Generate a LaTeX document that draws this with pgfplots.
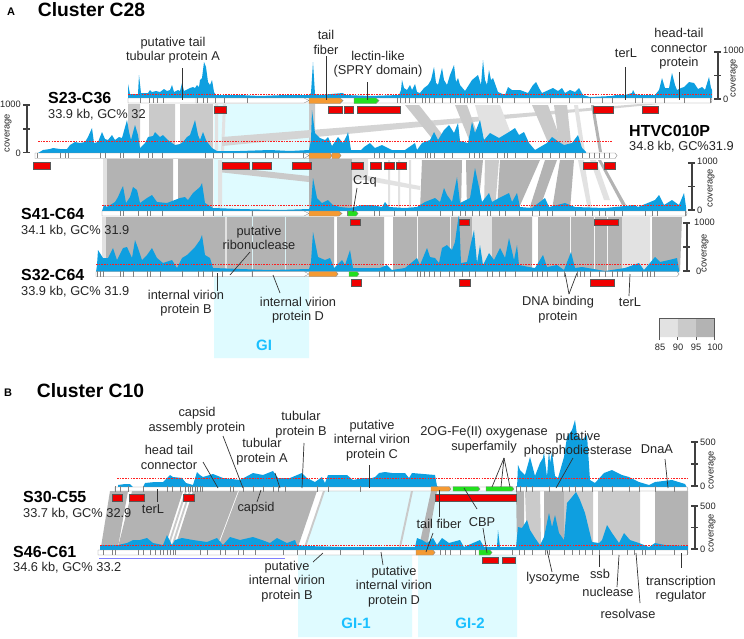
\documentclass[border=0pt]{standalone}
\usepackage{fontspec}
\setmainfont{Liberation Sans}
\usepackage{pgfplots}
\pgfplotsset{compat=1.18}
\definecolor{covb}{HTML}{0E9FE0}
\definecolor{cya}{HTML}{DFFBFF}
\definecolor{ga}{HTML}{B3B3B3}
\definecolor{gb}{HTML}{CACACA}
\definecolor{gc}{HTML}{E2E2E2}
\definecolor{redb}{HTML}{F00000}
\definecolor{orab}{HTML}{F59A32}
\definecolor{greb}{HTML}{22E01E}
\definecolor{gicol}{HTML}{1AC0FF}
\definecolor{lead}{HTML}{333333}
\definecolor{dotr}{HTML}{FF2020}
% filled box: x0 x1 y0 y1 colour
\newcommand{\Bx}[5]{\addplot[fill=#5,draw=none] coordinates {(#1,#3)(#2,#3)(#2,#4)(#1,#4)(#1,#3)};}
% red box with dark frame
\newcommand{\Rd}[4]{\addplot[fill=redb,draw=black!65,line width=0.8pt] coordinates {(#1,#3)(#2,#3)(#2,#4)(#1,#4)(#1,#3)};}
% link polygon: top-left top-right bottom-right bottom-left at y top/bottom
\newcommand{\Lk}[7]{\addplot[fill=#7,draw=none] coordinates {(#1,#5)(#2,#5)(#3,#6)(#4,#6)(#1,#5)};}
% gene arrow: x0 xneck x1 y0 ymid y1 colour
\newcommand{\Gn}[7]{\addplot[fill=#7,draw=black!45,line width=0.4pt] coordinates {(#1,#4)(#2,#4)(#3,#5)(#2,#6)(#1,#6)(#1,#4)};}
% leader line
\newcommand{\Ld}[4]{\addplot[lead,line width=0.7pt] coordinates {(#1,#2)(#3,#4)};}
% thick scale line
\newcommand{\Sc}[4]{\addplot[black!75,line width=1.1pt] coordinates {(#1,#2)(#3,#4)};}
\newcommand{\Red}[3]{\addplot[color=dotr,line width=1pt,dash pattern=on 1.6pt off 1.1pt] coordinates {(#1,#3)(#2,#3)};}
\newcommand{\lab}{\fontsize{12.8}{14.5}\selectfont}
\newcommand{\bld}{\fontsize{16}{18}\selectfont\bfseries}
\newcommand{\sml}{\fontsize{9.3}{11}\selectfont}
\tikzset{T/.style={inner sep=0pt,align=center,text=black!85,font=\lab},
  S/.style={inner sep=0pt,align=center,text=black!85,font=\sml},
  H/.style={inner sep=0pt,align=center,text=black,font=\bld},
  G/.style={inner sep=0pt,align=center,text=gicol,font=\fontsize{15}{17}\selectfont\bfseries}}
\begin{document}
\begin{tikzpicture}
\begin{axis}[hide axis,scale only axis,width=744pt,height=638pt,
  xmin=0,xmax=744,ymin=0,ymax=638,y dir=reverse,clip=false]
\addplot[fill=white,draw=none] coordinates {(0,0)(744,0)(744,638)(0,638)(0,0)};
%% ---- genomic-island backgrounds
\Bx{214}{309}{104}{358}{cya}
\addplot[fill=cya,draw=none] coordinates {(325,490)(431,490)(418,547)(412,547)(412,637)(298,637)(298,547)(305,547)(325,490)};
\addplot[fill=cya,draw=none] coordinates {(431,490)(517,490)(517,637)(418,637)(418,547)(431,490)};
%% ---- links A, track 1 -> 2
\Lk{128}{140}{140}{128}{104}{152}{gb}
\Lk{149}{175}{175}{149}{104}{152}{gb}
\Lk{180}{213}{213}{180}{104}{152}{gb}
\Lk{215}{218}{218}{215}{104}{152}{gc}
\Lk{223}{226}{224}{221}{104}{152}{gc}
\Lk{309}{315}{315}{309}{104}{152}{gb}
\addplot[fill=gb!60!gc,draw=none] coordinates {(222,137)(640,104)(660,104)(222,146)(222,137)};
\Lk{405}{419}{456}{443}{105}{152}{gb}
\Lk{455}{467}{484}{474}{105}{152}{gb}
\Lk{475}{500}{518}{488}{105}{152}{gc}
\Lk{532}{548}{565}{552}{105}{152}{gb}
\Lk{554}{567}{572}{560}{105}{152}{gb}
\Lk{574}{578}{585}{581}{105}{152}{gc}
\Lk{591}{594}{602}{599}{105}{152}{ga}
%% ---- links A, track 2 -> 3
\Lk{103}{107}{107}{103}{159}{210}{gc}
\Lk{107}{173}{173}{107}{159}{210}{ga}
\Lk{178}{213}{213}{178}{159}{210}{ga}
\addplot[fill=gb,draw=none] coordinates {(218,166)(309,176)(309,182)(218,172)(218,166)};
\addplot[fill=gc,draw=none] coordinates {(218,160)(222,160)(222,210)(218,210)(218,160)};
\Lk{309}{352}{352}{309}{159}{210}{ga}
\Lk{352}{368}{368}{352}{159}{180}{gc}
\addplot[fill=gc,draw=none] coordinates {(368,176)(420,186)(420,190)(368,181)(368,176)};
\Lk{388}{390}{390}{388}{160}{210}{gc}
\Lk{398}{400}{400}{398}{160}{210}{gc}
\Lk{409}{411}{411}{409}{160}{210}{gc}
\Lk{422}{462}{461}{420}{160}{210}{ga}
\Lk{466}{483}{478}{467}{160}{210}{ga}
\Lk{485}{499}{495}{484}{160}{210}{gb}
\Lk{500}{540}{518}{497}{160}{210}{ga}
\Lk{545}{557}{539}{529}{160}{210}{ga}
\Lk{560}{574}{570}{552}{160}{210}{ga}
\Lk{578}{584}{592}{588}{160}{210}{gc}
\Lk{590}{596}{610}{604}{160}{200}{gc}
\Lk{598}{601}{626}{622}{160}{205}{ga}
%% ---- links A, track 3 -> 4
\Lk{102}{106}{106}{102}{217}{271}{gc}
\Lk{106}{225}{225}{106}{217}{271}{ga}
\Lk{225}{227}{227}{225}{217}{271}{gc}
\Lk{227}{252}{252}{227}{217}{271}{ga}
\Lk{253}{285}{285}{253}{217}{271}{ga}
\Lk{286}{334}{334}{286}{217}{271}{ga}
\Lk{337}{384}{384}{337}{217}{271}{ga}
\Lk{393}{417}{417}{393}{217}{271}{ga}
\Lk{418}{450}{450}{418}{217}{271}{ga}
\Lk{451}{472}{472}{451}{217}{271}{ga}
\Lk{472}{492}{492}{472}{217}{271}{gc}
\Lk{492}{532}{532}{492}{217}{271}{ga}
\Lk{538}{570}{570}{538}{217}{271}{ga}
\Lk{571}{594}{594}{571}{217}{271}{ga}
\Lk{595}{607}{607}{595}{217}{271}{ga}
\Lk{608}{622}{622}{608}{217}{271}{ga}
\Lk{622}{650}{650}{622}{217}{271}{gc}
\Lk{652}{682}{680}{652}{217}{271}{ga}
%% ---- links B
\Lk{110}{128}{118}{101}{491}{547}{ga}
\Lk{132}{183}{165}{118}{491}{547}{ga}
\Lk{185}{187}{169}{167}{491}{547}{gb}
\Lk{189}{191}{173}{171}{491}{547}{gb}
\Lk{193}{238}{217}{175}{491}{547}{ga}
\Lk{239}{317}{298}{218}{491}{547}{ga}
\Lk{323}{325}{306}{304}{491}{547}{gb}
\Lk{411}{413}{401}{399}{491}{547}{gb}
\Lk{431}{437}{427}{419}{491}{547}{ga}
\Lk{516}{524}{524}{517}{491}{546}{ga}
\Lk{525}{540}{541}{527}{491}{546}{gb}
\Lk{544}{564}{564}{544}{491}{546}{ga}
\Lk{564}{593}{593}{564}{491}{546}{gb}
\Lk{598}{640}{640}{598}{491}{546}{gb}
\Lk{655}{688}{688}{655}{491}{546}{ga}
%% ---- coverage A1
\addplot[fill=covb,draw=none] coordinates {(128,98)(128,84)(130,94)(134,94)(138,94)(139,75)(141,93)(148,93)(150,90)(152,92)(156,91)(160,92)(164,89)(167,91)(170,90)(172,85)(174,92)(178,90)(180,91)(182,83)(184,91)(188,89)(190,88)(193,87)(195,88)(197,85)(199,87)(200,80)(202,78)(204,62)(206,67)(208,82)(210,85)(212,80)(214,92)(216,95)(240,95)(260,96)(285,95)(309,95)(311,93)(313,62)(315,94)(320,95)(343,93)(345,95)(370,96)(399,95)(401,90)(402,80)(404,88)(407,90)(410,85)(412,90)(415,84)(417,92)(420,93)(424,88)(428,85)(431,80)(434,67)(436,83)(438,85)(442,68)(444,80)(447,85)(450,75)(454,65)(456,82)(458,78)(460,85)(465,91)(472,80)(478,75)(481,85)(483,60)(485,80)(487,85)(489,70)(491,80)(493,78)(498,92)(505,95)(508,87)(512,90)(520,90)(528,93)(533,85)(536,82)(539,88)(542,93)(553,88)(558,91)(562,88)(565,93)(570,90)(575,92)(579,88)(583,95)(590,97)(612,96)(616,95)(625,95)(632,93)(633,90)(635,94)(639,95)(655,95)(659,90)(662,78)(665,88)(669,88)(672,73)(675,85)(677,90)(681,88)(684,87)(689,82)(694,83)(698,89)(702,87)(705,90)(709,77)(711,88)(712,90)(712,98)(128,98)};
%% ---- coverage A2
\addplot[fill=covb,draw=none] coordinates {(38,153)(43,150)(50,149)(53,148)(60,149)(67,149)(70,145)(75,142)(80,143)(85,142)(88,137)(92,128)(94,143)(98,142)(102,132)(105,139)(108,140)(112,135)(115,140)(119,137)(122,138)(127,120)(129,132)(131,140)(135,125)(138,135)(140,148)(145,143)(148,137)(153,136)(155,132)(160,137)(163,135)(168,140)(172,143)(175,145)(180,144)(183,142)(187,137)(190,135)(195,120)(198,135)(200,140)(203,132)(206,140)(208,143)(212,148)(217,151)(240,151)(270,150)(290,151)(309,150)(311,140)(312,110)(315,133)(320,138)(325,140)(328,137)(332,146)(338,137)(343,143)(347,135)(348,132)(351,150)(361,150)(364,147)(370,143)(375,148)(382,145)(392,150)(405,150)(415,143)(417,150)(422,143)(430,140)(434,132)(438,140)(444,130)(449,125)(454,133)(458,123)(460,141)(468,143)(472,122)(475,133)(480,120)(484,140)(490,133)(499,138)(504,135)(509,132)(515,128)(519,135)(524,132)(529,143)(535,150)(547,143)(552,137)(559,142)(564,145)(572,143)(578,135)(582,148)(586,152)(586,153)(38,153)};
%% ---- coverage A3
\addplot[fill=covb,draw=none] coordinates {(102,211)(104,205)(107,207)(115,202)(118,197)(121,190)(123,186)(126,203)(130,197)(133,187)(137,190)(140,203)(147,198)(152,195)(157,202)(167,203)(180,198)(185,197)(188,200)(193,193)(200,187)(202,183)(205,203)(213,208)(240,209)(280,210)(309,209)(311,205)(313,178)(317,198)(322,203)(328,200)(333,205)(340,207)(350,208)(362,205)(372,205)(382,207)(385,202)(389,207)(405,208)(417,207)(425,202)(435,198)(440,202)(444,188)(447,195)(452,202)(457,177)(460,203)(470,198)(475,168)(479,187)(482,202)(489,193)(492,202)(499,198)(509,193)(512,202)(517,193)(520,207)(532,208)(545,198)(549,207)(565,203)(575,207)(605,208)(635,205)(638,207)(655,200)(659,195)(664,205)(672,200)(679,205)(684,193)(686,207)(686,211)(102,211)};
%% ---- coverage A4
\addplot[fill=covb,draw=none] coordinates {(96,272)(97,265)(98,250)(103,258)(108,258)(113,248)(117,260)(123,248)(127,247)(132,258)(135,240)(138,248)(142,260)(147,255)(152,248)(157,258)(163,263)(172,260)(177,268)(182,258)(187,255)(195,247)(200,240)(202,235)(205,255)(210,258)(213,268)(240,269)(270,270)(309,269)(311,262)(313,232)(318,257)(325,260)(330,258)(334,268)(342,260)(345,265)(350,250)(353,268)(367,268)(380,268)(387,265)(392,270)(405,268)(417,258)(420,265)(427,248)(430,257)(435,258)(439,263)(442,248)(447,245)(452,250)(455,242)(459,213)(461,263)(467,262)(471,243)(474,230)(477,263)(480,245)(483,265)(489,253)(494,260)(500,248)(505,258)(509,238)(514,260)(517,245)(519,265)(529,267)(535,268)(543,255)(547,267)(557,265)(564,270)(571,252)(575,268)(582,267)(605,271)(625,268)(639,263)(644,270)(655,257)(660,262)(669,260)(677,258)(679,270)(679,272)(96,272)};
%% ---- coverage B1
\addplot[fill=covb,draw=none] coordinates {(118,488)(118,485)(125,484)(130,484)(133,487)(143,487)(145,483)(155,482)(163,482)(170,475)(173,477)(182,478)(186,483)(193,485)(197,472)(200,475)(203,477)(213,474)(223,478)(240,480)(253,473)(263,475)(273,471)(278,478)(290,478)(302,473)(307,478)(315,482)(322,477)(325,483)(328,475)(347,475)(353,480)(363,478)(372,478)(375,477)(379,473)(385,472)(392,473)(405,473)(409,478)(412,473)(435,475)(437,486)(440,488)(517,488)(518,465)(520,470)(525,475)(530,457)(535,476)(540,463)(543,458)(544,452)(547,477)(549,450)(550,463)(552,452)(555,476)(558,478)(564,457)(567,437)(572,430)(575,420)(577,435)(582,440)(587,435)(590,480)(595,483)(604,473)(612,470)(622,475)(629,477)(639,482)(649,485)(655,482)(672,480)(685,484)(687,488)(118,488)};
%% ---- coverage B2
\addplot[fill=covb,draw=none] coordinates {(100,550)(100,545)(118,545)(127,543)(133,540)(140,540)(147,538)(153,543)(163,545)(167,535)(172,545)(175,540)(182,538)(193,540)(207,542)(217,538)(223,545)(230,537)(240,540)(253,537)(262,540)(270,543)(277,538)(287,543)(295,540)(297,545)(307,546)(340,547)(367,547)(400,547)(415,547)(417,538)(422,540)(427,543)(433,538)(437,545)(442,538)(449,543)(460,540)(464,547)(480,540)(484,547)(497,547)(498,530)(500,547)(516,547)(518,527)(522,528)(527,520)(530,530)(535,538)(540,545)(544,537)(549,513)(552,527)(555,515)(559,533)(564,540)(567,503)(572,497)(576,492)(580,500)(585,513)(592,542)(599,543)(602,540)(607,525)(612,533)(619,543)(624,533)(630,540)(639,543)(649,547)(655,543)(665,545)(688,546)(688,550)(100,550)};
%% ---- red dotted
\Red{128}{712}{94.5}
\Red{38}{612}{141.3}
\Red{102}{680}{205.3}
\Red{96}{679}{264.3}
\Red{117}{688}{478.3}
\Red{100}{688}{545.3}
%% ---- genome bars
\Gn{128}{711}{712}{98}{100.5}{103}{white}
\Gn{35}{615}{617}{153}{155.5}{158.5}{white}
\Gn{102}{686}{687}{211}{213.5}{216}{white}
\Gn{96}{677}{679}{271.5}{274}{276.5}{white}
\Gn{115}{687}{688}{487}{489}{491}{white}
\Gn{98}{687}{688}{550}{552.5}{555}{white}
\Gn{196}{304}{309}{98}{100.5}{103}{white}
\Gn{247}{304}{309}{153}{155.5}{158.5}{white}
\Gn{252}{304}{309}{211}{213.5}{216}{white}
\Gn{252}{304}{309}{271.5}{274}{276.5}{white}
%% ---- gene boundaries
\pgfplotsset{gb/.style={only marks,mark=|,mark size=2.8pt,mark options={black!50,line width=0.45pt}}}
\addplot[gb] coordinates {(140,100.5)(149,100.5)(153,100.5)(157,100.5)(163,100.5)(197,100.5)(203,100.5)(207,100.5)(215,100.5)(224,100.5)(247,100.5)(397,100.5)(400,100.5)(405,100.5)(409,100.5)(415,100.5)(422,100.5)(425,100.5)(429,100.5)(434,100.5)(442,100.5)(450,100.5)(455,100.5)(460,100.5)(464,100.5)(467,100.5)(470,100.5)(474,100.5)(487,100.5)(492,100.5)(497,100.5)(502,100.5)(514,100.5)(529,100.5)(550,100.5)(569,100.5)(582,100.5)(590,100.5)(602,100.5)(612,100.5)(635,100.5)(642,100.5)(655,100.5)(664,100.5)(684,100.5)(710,100.5)};
\addplot[gb] coordinates {(37,155.5)(60,155.5)(65,155.5)(68,155.5)(100,155.5)(105,155.5)(120,155.5)(123,155.5)(139,155.5)(148,155.5)(152,155.5)(162,155.5)(205,155.5)(213,155.5)(222,155.5)(233,155.5)(247,155.5)(265,155.5)(273,155.5)(278,155.5)(303,155.5)(374,155.5)(379,155.5)(384,155.5)(394,155.5)(405,155.5)(415,155.5)(425,155.5)(427,155.5)(430,155.5)(434,155.5)(444,155.5)(452,155.5)(469,155.5)(474,155.5)(479,155.5)(482,155.5)(497,155.5)(504,155.5)(507,155.5)(515,155.5)(527,155.5)(542,155.5)(550,155.5)(559,155.5)(565,155.5)(575,155.5)(582,155.5)(589,155.5)(594,155.5)(599,155.5)(604,155.5)(609,155.5)};
\addplot[gb] coordinates {(120,213.5)(123,213.5)(138,213.5)(147,213.5)(150,213.5)(162,213.5)(203,213.5)(213,213.5)(222,213.5)(252,213.5)(347,213.5)(374,213.5)(379,213.5)(394,213.5)(405,213.5)(417,213.5)(440,213.5)(452,213.5)(460,213.5)(465,213.5)(472,213.5)(479,213.5)(487,213.5)(490,213.5)(499,213.5)(505,213.5)(519,213.5)(532,213.5)(539,213.5)(547,213.5)(552,213.5)(575,213.5)(585,213.5)(592,213.5)(599,213.5)(605,213.5)(614,213.5)(622,213.5)(645,213.5)(652,213.5)(657,213.5)(685,213.5)};
\addplot[gb] coordinates {(97,274)(100,274)(103,274)(120,274)(123,274)(133,274)(147,274)(150,274)(160,274)(182,274)(198,274)(203,274)(212,274)(222,274)(252,274)(379,274)(384,274)(394,274)(405,274)(417,274)(420,274)(424,274)(429,274)(434,274)(440,274)(449,274)(454,274)(462,274)(469,274)(475,274)(487,274)(492,274)(499,274)(505,274)(515,274)(532,274)(537,274)(542,274)(547,274)(557,274)(564,274)(577,274)(580,274)(584,274)(590,274)(599,274)(605,274)(612,274)(617,274)(622,274)(642,274)(647,274)(650,274)(654,274)};
\addplot[gb] coordinates {(115,489)(120,489)(128,489)(143,489)(167,489)(172,489)(180,489)(185,489)(188,489)(190,489)(192,489)(195,489)(197,489)(200,489)(202,489)(230,489)(233,489)(243,489)(253,489)(263,489)(273,489)(278,489)(285,489)(317,489)(328,489)(360,489)(516,489)(520,489)(526,489)(532,489)(549,489)(562,489)(569,489)(575,489)(582,489)(592,489)(602,489)(612,489)(629,489)(639,489)(655,489)(674,489)};
\addplot[gb] coordinates {(103,552.5)(112,552.5)(115,552.5)(138,552.5)(143,552.5)(150,552.5)(155,552.5)(160,552.5)(163,552.5)(167,552.5)(170,552.5)(173,552.5)(175,552.5)(200,552.5)(207,552.5)(220,552.5)(225,552.5)(238,552.5)(243,552.5)(255,552.5)(283,552.5)(297,552.5)(305,552.5)(340,552.5)(363,552.5)(440,552.5)(445,552.5)(450,552.5)(460,552.5)(475,552.5)(512,552.5)(519,552.5)(524,552.5)(532,552.5)(545,552.5)(549,552.5)(564,552.5)(572,552.5)(579,552.5)(585,552.5)(592,552.5)(599,552.5)(612,552.5)(627,552.5)(634,552.5)(642,552.5)(645,552.5)(655,552.5)(674,552.5)(687,552.5)};
%% ---- coloured genes
\Gn{309}{340}{343}{98}{100.5}{103.5}{orab}
\Gn{309}{330}{332}{153}{155.5}{158.5}{orab}
\Gn{332}{339}{341}{153}{155.5}{158.5}{orab}
\Gn{309}{339}{342}{211}{213.5}{216}{orab}
\Gn{309}{336}{338}{271.5}{274}{276.5}{orab}
\Gn{431}{449}{451}{486.5}{489}{491}{orab}
\Gn{416}{433}{435}{550}{552.5}{555}{orab}
\Gn{354}{376}{379}{98}{100.5}{103.5}{greb}
\Gn{348}{356}{358}{211}{213.5}{216}{greb}
\Gn{349}{357}{359}{271.5}{274}{276.5}{greb}
\Gn{453}{478}{480}{486.5}{489}{491}{greb}
\Gn{486}{512}{514}{486.5}{489}{491}{greb}
\Gn{479}{490}{492}{550}{552.5}{555}{greb}
%% ---- red boxes
\Rd{214}{226}{106.5}{113.5}
\Rd{328}{342}{106.5}{113.5}
\Rd{344}{353}{106.5}{113.5}
\Rd{357}{400}{106.5}{113.5}
\Rd{593}{613}{106.5}{113.5}
\Rd{642}{658}{106.5}{113.5}
\Rd{33}{50}{162}{169}
\Rd{222}{249}{162}{169}
\Rd{252}{271}{162}{169}
\Rd{292}{311}{162}{169}
\Rd{351}{363}{162}{169}
\Rd{370}{381}{162}{169}
\Rd{384}{394}{162}{169}
\Rd{396}{406}{162}{169}
\Rd{583}{597}{162}{169}
\Rd{604}{615}{162}{169}
\Rd{350}{360}{219}{225}
\Rd{459}{469}{219}{225}
\Rd{594}{618}{219}{225}
\Rd{351}{361}{279}{286}
\Rd{459}{470}{279}{286}
\Rd{590}{614}{279}{286}
\Rd{112}{122}{494}{501}
\Rd{129}{144}{494}{501}
\Rd{183}{194}{494}{501}
\Rd{435}{516}{494}{501}
\Rd{482}{498}{557}{563}
\Rd{502}{515}{557}{563}
\addplot[color=blue!50,line width=1.1pt] coordinates {(99,558.3)(285,558.3)};
%% ---- leader lines
\Ld{182}{68}{182}{100}\Ld{326}{56}{326}{100}\Ld{367}{82}{367}{100}\Ld{625}{67}{625}{100}\Ld{679}{72}{679}{100}
\Ld{357}{188}{353}{212}\Ld{250}{252}{230}{275}\Ld{217}{273}{217}{291}\Ld{273}{275}{280}{293}
\Ld{569}{294}{565}{273}\Ld{569}{294}{577}{273}\Ld{630}{274}{629}{296}
\Ld{203}{462}{218}{488}\Ld{223}{436}{243}{488}\Ld{275}{473}{280}{488}\Ld{304}{443}{302}{488}\Ld{369}{465}{369}{488}
\Ld{157}{489}{157}{502}\Ld{261}{490}{257}{502}\Ld{323}{553}{313}{562}\Ld{381}{552}{383}{565}
\Ld{504}{458}{492}{487}\Ld{504}{458}{501}{487}\Ld{504}{458}{510}{487}\Ld{573}{458}{556}{488}\Ld{665}{459}{668}{488}
\Ld{439}{490}{439}{517}\Ld{433}{533}{426}{552}\Ld{464}{488}{477}{509}\Ld{483}{528}{487}{553}
\Ld{547}{550}{552}{572}\Ld{599}{553}{599}{567}\Ld{619}{555}{617}{587}\Ld{636}{553}{640}{603}\Ld{681}{553}{681}{568}
%% ---- coverage scales
\Sc{718}{52}{718}{99}\Sc{714}{52}{721}{52}\Sc{714}{75.5}{721}{75.5}\Sc{714}{99}{721}{99}
\Sc{27}{105}{27}{152.7}\Sc{23}{105}{30}{105}\Sc{23}{129}{30}{129}\Sc{23}{152.7}{30}{152.7}
\Sc{692}{163}{692}{210}\Sc{688}{163}{695}{163}\Sc{688}{186.5}{695}{186.5}\Sc{688}{210}{695}{210}
\Sc{687}{223}{687}{271}\Sc{683}{223}{690}{223}\Sc{683}{247}{690}{247}\Sc{683}{271}{690}{271}
\Sc{695}{442}{695}{486}\Sc{691}{442}{698}{442}\Sc{691}{464}{698}{464}\Sc{691}{486}{698}{486}
\Sc{695}{506}{695}{549}\Sc{691}{506}{698}{506}\Sc{691}{527.5}{698}{527.5}\Sc{691}{549}{698}{549}
%% ---- identity legend
\Bx{659}{677.5}{318}{337}{gc}
\Bx{677.5}{696}{318}{337}{gb}
\Bx{696}{714}{318}{337}{ga}
\addplot[black!65,line width=0.8pt] coordinates {(659,340)(659,318)(714,318)(714,340)};
\addplot[black!65,line width=0.8pt] coordinates {(677.5,337)(677.5,340)};
\addplot[black!65,line width=0.8pt] coordinates {(696,337)(696,340)};
%% ---- text
\node[H,font=\fontsize{11}{13}\selectfont\bfseries] at (axis cs:11,12) {A};
\node[H,font=\fontsize{19.3}{22}\selectfont\bfseries] at (axis cs:91.5,9.5) {Cluster C28};
\node[H,font=\fontsize{11}{13}\selectfont\bfseries] at (axis cs:8,393) {B};
\node[H,font=\fontsize{19.3}{22}\selectfont\bfseries] at (axis cs:90.5,391) {Cluster C10};
\node[T] at (axis cs:173,50) {putative tail\\tubular protein A};
\node[T] at (axis cs:326,42.5) {tail\\fiber};
\node[T] at (axis cs:378,64) {lectin-like\\(SPRY domain)};
\node[T] at (axis cs:626,53) {terL};
\node[T] at (axis cs:679,49) {head-tail\\connector\\protein};
\node[H,anchor=west] at (axis cs:48,98) {S23-C36};
\node[T,anchor=west] at (axis cs:48,115) {33.9 kb, GC\% 32};
\node[H,anchor=west] at (axis cs:629,131) {HTVC010P};
\node[T,anchor=west] at (axis cs:629,147) {34.8 kb, GC\%31.9};
\node[T,anchor=west] at (axis cs:353,181) {C1q};
\node[H,anchor=west] at (axis cs:21,214) {S41-C64};
\node[T,anchor=west] at (axis cs:21,231) {34.1 kb, GC\% 31.9};
\node[H,anchor=west] at (axis cs:21,275) {S32-C64};
\node[T,anchor=west] at (axis cs:21,292) {33.9 kb, GC\% 31.9};
\node[T] at (axis cs:259,238) {putative\\ribonuclease};
\node[T] at (axis cs:186,303) {internal virion\\protein B};
\node[T] at (axis cs:298,310) {internal virion\\protein D};
\node[G] at (axis cs:264,345) {GI};
\node[T] at (axis cs:558,309.5) {DNA binding\\protein};
\node[T] at (axis cs:630,302) {terL};
\node[S] at (axis cs:660,347.5) {85};
\node[S] at (axis cs:678,347.5) {90};
\node[S] at (axis cs:696,347.5) {95};
\node[S] at (axis cs:715,347.5) {100};
\node[S,anchor=west] at (axis cs:723,50) {1000};
\node[S,anchor=west] at (axis cs:723,99) {0};
\node[S,rotate=90] at (axis cs:734,78) {coverage};
\node[S,anchor=east] at (axis cs:21,104) {1000};
\node[S,anchor=east] at (axis cs:21,153) {0};
\node[S,rotate=90] at (axis cs:8,133) {coverage};
\node[S,anchor=west] at (axis cs:697,161) {1000};
\node[S,anchor=west] at (axis cs:697,210) {0};
\node[S,rotate=90] at (axis cs:711,188) {coverage};
\node[S,anchor=west] at (axis cs:694,222) {1000};
\node[S,anchor=west] at (axis cs:696,271) {0};
\node[S,rotate=90] at (axis cs:705,253) {coverage};
\node[S,anchor=west] at (axis cs:700,442) {500};
\node[S,anchor=west] at (axis cs:700,486) {0};
\node[S,rotate=90] at (axis cs:712,470) {coverage};
\node[S,anchor=west] at (axis cs:700,506) {500};
\node[S,anchor=west] at (axis cs:700,549) {0};
\node[S,rotate=90] at (axis cs:712,533) {coverage};
\node[T] at (axis cs:197,420.5) {capsid\\assembly protein};
\node[T] at (axis cs:301,424.5) {tubular\\protein B};
\node[T] at (axis cs:372,440.5) {putative\\internal virion\\protein C};
\node[T] at (axis cs:169,457.5) {head tail\\connector};
\node[T] at (axis cs:262,451.5) {tubular\\protein A};
\node[T] at (axis cs:153,509) {terL};
\node[T] at (axis cs:256,508) {capsid};
\node[H,anchor=west] at (axis cs:23,497) {S30-C55};
\node[T,anchor=west] at (axis cs:23,514) {33.7 kb, GC\% 32.9};
\node[H,anchor=west] at (axis cs:13,552) {S46-C61};
\node[T,anchor=west] at (axis cs:13,568) {34.6 kb, GC\% 33.2};
\node[T] at (axis cs:287,581.5) {putative\\internal virion\\protein B};
\node[T] at (axis cs:394,586.5) {putative\\internal virion\\protein D};
\node[G] at (axis cs:356,623) {GI-1};
\node[G] at (axis cs:470,623) {GI-2};
\node[T] at (axis cs:484,439.5) {2OG-Fe(II) oxygenase\\superfamily};
\node[T] at (axis cs:578,444) {putative\\phosphodiesterase};
\node[T] at (axis cs:657,449) {DnaA};
\node[T] at (axis cs:439,524) {tail fiber};
\node[T] at (axis cs:482,522) {CBP};
\node[T] at (axis cs:553,578) {lysozyme};
\node[T] at (axis cs:600,574) {ssb};
\node[T] at (axis cs:608,592) {nuclease};
\node[T] at (axis cs:628,614) {resolvase};
\node[T] at (axis cs:681,589) {transcription\\regulator};
\end{axis}
\end{tikzpicture}
\end{document}
